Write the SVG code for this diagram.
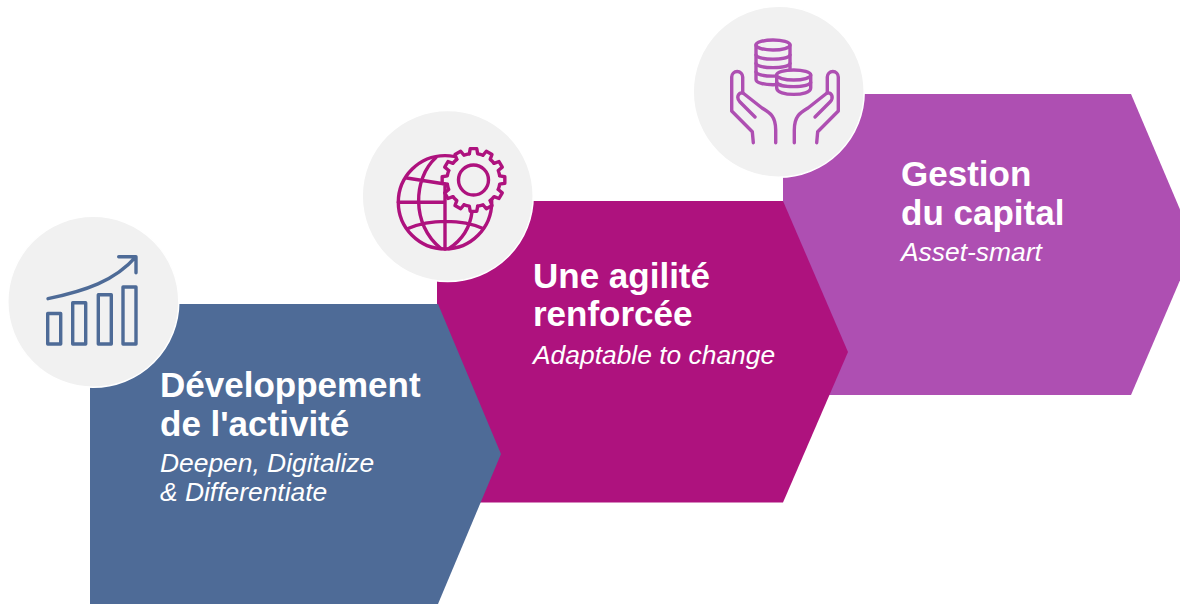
<svg xmlns="http://www.w3.org/2000/svg" width="1180" height="604" viewBox="0 0 1180 604">
<style>
.h{font:bold 35px "Liberation Sans",Arial,sans-serif;fill:#fff}
.s{font:italic 26.400px "Liberation Sans",Arial,sans-serif;fill:#fff}
.c{fill:#f1f1f1;stroke:#fff;stroke-width:1.500}
.i{fill:none;stroke-width:3.400;stroke-linecap:round;stroke-linejoin:round}
</style>
<defs>
<path id="tooth" d="M-4.150 -26.170L-3.290 -31.330L3.290 -31.330L4.150 -26.170A26.500 26.500 0 0 1 9.500 -24.740"/>
</defs>
<rect width="1180" height="604" fill="#fff"/>
<g id="node-gestion">
<polygon points="783,94 1131,94 1195,245 1131,395 783,395" fill="#ae4fb2"/>
<text class="h" x="901" y="186">Gestion</text>
<text class="h" x="901" y="225">du capital</text>
<text class="s" x="901" y="261">Asset-smart</text>
</g>
<g id="node-agilite">
<polygon points="437,201 783,201 848,352 783,502.500 437,502.500" fill="#ae127e"/>
<text class="h" x="533" y="288">Une agilité</text>
<text class="h" x="533" y="326">renforcée</text>
<text class="s" x="533" y="364">Adaptable to change</text>
</g>
<g id="node-developpement">
<polygon points="90,304 438,304 501,454 438,604 90,604" fill="#4e6b97"/>
<text class="h" x="160" y="397">Développement</text>
<text class="h" x="160" y="436">de l'activité</text>
<text class="s" x="160" y="472">Deepen, Digitalize</text>
<text class="s" x="160" y="501">&amp; Differentiate</text>
</g>
<g id="icon-chart">
<circle class="c" cx="93.300" cy="301.700" r="85.500"/>
<g class="i" stroke="#4e6b97">
<rect x="47.700" y="313.500" width="13" height="30.500"/>
<rect x="72.700" y="302.700" width="13" height="41.300"/>
<rect x="98.300" y="294.700" width="13" height="49.300"/>
<rect x="123" y="287" width="13" height="57"/>
<path d="M48 298.700C85 291 115 281 136 256.700M118.700 256.700H136V272.700"/>
</g>
</g>
<g id="icon-globe">
<circle class="c" cx="447.700" cy="196" r="85.500"/>
<g class="i" stroke="#ae127e">
<circle cx="445" cy="202.300" r="46.700"/>
<path d="M436 157.500C413 178 411 225 441 248.500M472 212C470 228 462 240 449 248.500M445 185V249M398.300 202.300H445M406.700 178L445 184M408 228.500C430 219 462 219 483 228.500"/>
<g fill="#f1f1f1" transform="translate(473.500,180)">
<circle r="26.500" stroke="none"/>
<use href="#tooth"/>
<use href="#tooth" transform="rotate(30)"/>
<use href="#tooth" transform="rotate(60)"/>
<use href="#tooth" transform="rotate(90)"/>
<use href="#tooth" transform="rotate(120)"/>
<use href="#tooth" transform="rotate(150)"/>
<use href="#tooth" transform="rotate(180)"/>
<use href="#tooth" transform="rotate(210)"/>
<use href="#tooth" transform="rotate(240)"/>
<use href="#tooth" transform="rotate(270)"/>
<use href="#tooth" transform="rotate(300)"/>
<use href="#tooth" transform="rotate(330)"/>
<circle r="15"/>
</g>
</g>
</g>
<g id="icon-hands">
<circle class="c" cx="778.700" cy="91.700" r="85.500"/>
<g class="i" stroke="#ae4fb2">
<path d="M756 45V79.500C756 86.500 790 86.500 790 79.500V45"/>
<ellipse cx="773" cy="45" rx="17" ry="5"/>
<path d="M756 55C758 60.500 788 60.500 790 55M756 63.500C758 69 788 69 790 63.500M756 72C758 77.500 788 77.500 790 72"/>
<path fill="#f1f1f1" d="M776.700 75V88C776.700 96.500 810.700 96.500 810.700 88V75"/>
<ellipse fill="#f1f1f1" cx="793.700" cy="75" rx="17" ry="5"/>
<path d="M776.700 82.500C779 88 808 88 810.700 82.500"/>
<g id="hand">
<path d="M753.300 142.700L752.300 131.700L731.700 111V77A5.500 5.500 0 0 1 742.700 77V93"/>
<path d="M755 117L740 102C736 98 738 92 743 93L762 108C770 113 775.700 116 775.700 130V142.700"/>
</g>
<use href="#hand" transform="translate(1570,0) scale(-1,1)"/>
</g>
</g>
</svg>
